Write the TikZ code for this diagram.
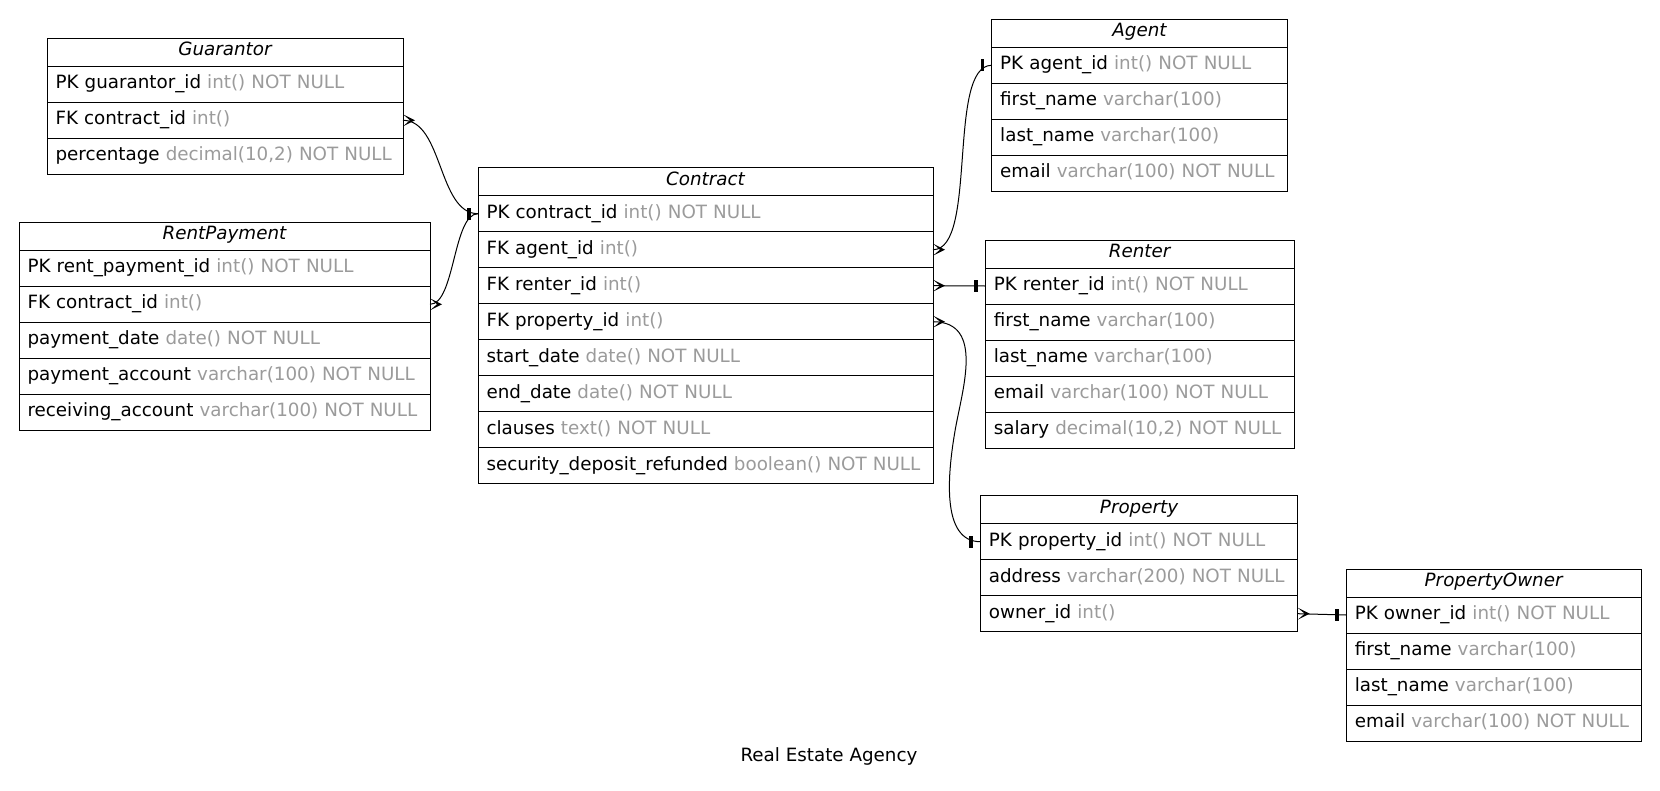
\documentclass[tikz,border=0pt]{standalone}
\usepackage{fontspec}
\setmainfont{DejaVu Sans}
\usetikzlibrary{calc}

\definecolor{typegray}{RGB}{155,155,155}
\newcommand{\dbfont}{\fontsize{18.3pt}{22pt}\selectfont}
\newcommand{\coltype}[1]{\textcolor{typegray}{#1}}

\tikzset{
  hdr/.style={draw=black, line width=1pt, inner xsep=8.5pt, inner ysep=0pt, outer sep=0pt,
    minimum height=28pt, text height=12.5pt, text depth=5.5pt,
    font=\dbfont\itshape, align=center, anchor=north west, text width=#1},
  fld/.style={draw=black, line width=1pt, inner xsep=8.5pt, inner ysep=0pt, outer sep=0pt,
    minimum height=36pt, text height=13.5pt, text depth=4.5pt,
    font=\dbfont, align=left, anchor=north west, text width=#1},
  rel/.style={draw=black, line width=1pt},
  crowfoot/.pic={\fill[black] (0,-6) -- (12,0) -- (0,6) -- (7,0) -- cycle;},
  onebar/.pic={\fill[black] (-11,-6) rectangle (-7.5,6);},
}

\begin{document}
\begin{tikzpicture}[x=1pt, y=-1pt]
\fill[white] (0,0) rectangle (1660,790);
\useasboundingbox (0,0) rectangle (1660,790);

% Guarantor
\node[hdr=339pt] (gua) at (47,38.3) {Guarantor};
\node[fld=339pt] (gua1) at (gua.south west) {PK guarantor\_id \coltype{int() NOT NULL}};
\node[fld=339pt] (gua2) at (gua1.south west) {FK contract\_id \coltype{int()}};
\node[fld=339pt] (gua3) at (gua2.south west) {percentage \coltype{decimal(10,2) NOT NULL}};

% RentPayment
\node[hdr=394pt] (rp) at (19,222.3) {RentPayment};
\node[fld=394pt] (rp1) at (rp.south west) {PK rent\_payment\_id \coltype{int() NOT NULL}};
\node[fld=394pt] (rp2) at (rp1.south west) {FK contract\_id \coltype{int()}};
\node[fld=394pt] (rp3) at (rp2.south west) {payment\_date \coltype{date() NOT NULL}};
\node[fld=394pt] (rp4) at (rp3.south west) {payment\_account \coltype{varchar(100) NOT NULL}};
\node[fld=394pt] (rp5) at (rp4.south west) {receiving\_account \coltype{varchar(100) NOT NULL}};

% Contract
\node[hdr=438pt] (con) at (478,167.7) {Contract};
\node[fld=438pt] (con1) at (con.south west) {PK contract\_id \coltype{int() NOT NULL}};
\node[fld=438pt] (con2) at (con1.south west) {FK agent\_id \coltype{int()}};
\node[fld=438pt] (con3) at (con2.south west) {FK renter\_id \coltype{int()}};
\node[fld=438pt] (con4) at (con3.south west) {FK property\_id \coltype{int()}};
\node[fld=438pt] (con5) at (con4.south west) {start\_date \coltype{date() NOT NULL}};
\node[fld=438pt] (con6) at (con5.south west) {end\_date \coltype{date() NOT NULL}};
\node[fld=438pt] (con7) at (con6.south west) {clauses \coltype{text() NOT NULL}};
\node[fld=438pt] (con8) at (con7.south west) {security\_deposit\_refunded \coltype{boolean() NOT NULL}};

% Agent
\node[hdr=278.6pt] (agt) at (991.7,19.3) {Agent};
\node[fld=278.6pt] (agt1) at (agt.south west) {PK agent\_id \coltype{int() NOT NULL}};
\node[fld=278.6pt] (agt2) at (agt1.south west) {first\_name \coltype{varchar(100)}};
\node[fld=278.6pt] (agt3) at (agt2.south west) {last\_name \coltype{varchar(100)}};
\node[fld=278.6pt] (agt4) at (agt3.south west) {email \coltype{varchar(100) NOT NULL}};

% Renter
\node[hdr=291.7pt] (ren) at (985.3,240) {Renter};
\node[fld=291.7pt] (ren1) at (ren.south west) {PK renter\_id \coltype{int() NOT NULL}};
\node[fld=291.7pt] (ren2) at (ren1.south west) {first\_name \coltype{varchar(100)}};
\node[fld=291.7pt] (ren3) at (ren2.south west) {last\_name \coltype{varchar(100)}};
\node[fld=291.7pt] (ren4) at (ren3.south west) {email \coltype{varchar(100) NOT NULL}};
\node[fld=291.7pt] (ren5) at (ren4.south west) {salary \coltype{decimal(10,2) NOT NULL}};

% Property
\node[hdr=300.3pt] (pro) at (980.4,495.7) {Property};
\node[fld=300.3pt] (pro1) at (pro.south west) {PK property\_id \coltype{int() NOT NULL}};
\node[fld=300.3pt] (pro2) at (pro1.south west) {address \coltype{varchar(200) NOT NULL}};
\node[fld=300.3pt] (pro3) at (pro2.south west) {owner\_id \coltype{int()}};

% PropertyOwner
\node[hdr=277.7pt] (own) at (1346.3,569) {PropertyOwner};
\node[fld=277.7pt] (own1) at (own.south west) {PK owner\_id \coltype{int() NOT NULL}};
\node[fld=277.7pt] (own2) at (own1.south west) {first\_name \coltype{varchar(100)}};
\node[fld=277.7pt] (own3) at (own2.south west) {last\_name \coltype{varchar(100)}};
\node[fld=277.7pt] (own4) at (own3.south west) {email \coltype{varchar(100) NOT NULL}};

% Relationships (many side: crow's foot, one side: bar)
\draw[rel] (gua2.east) .. controls +(40,0) and +(-40,0) .. (con1.west);
\draw[rel] (rp2.east) .. controls +(25,0) and +(-25,0) .. (con1.west);
\draw[rel] (con2.east) .. controls +(45,0) and +(-45,0) .. (agt1.west);
\draw[rel] (con3.east) -- (ren1.west);
\coordinate (propbend) at (955,431);
\draw[rel] (con4.east) .. controls +(52,0) and +(7,-41) .. (propbend)
  .. controls +(-7,41) and +(-40,0) .. (pro1.west);
\draw[rel] (pro3.east) -- (own1.west);

\pic at (gua2.east) {crowfoot};
\pic at (rp2.east) {crowfoot};
\pic at (con2.east) {crowfoot};
\pic at (con3.east) {crowfoot};
\pic at (con4.east) {crowfoot};
\pic at (pro3.east) {crowfoot};

\pic at (con1.west) {onebar};
\pic at (agt1.west) {onebar};
\pic at (ren1.west) {onebar};
\pic at (pro1.west) {onebar};
\pic at (own1.west) {onebar};

% Caption
\node[font=\dbfont, anchor=base, inner sep=0pt] (title) at (829,761) {Real Estate Agency};
\end{tikzpicture}
\end{document}
